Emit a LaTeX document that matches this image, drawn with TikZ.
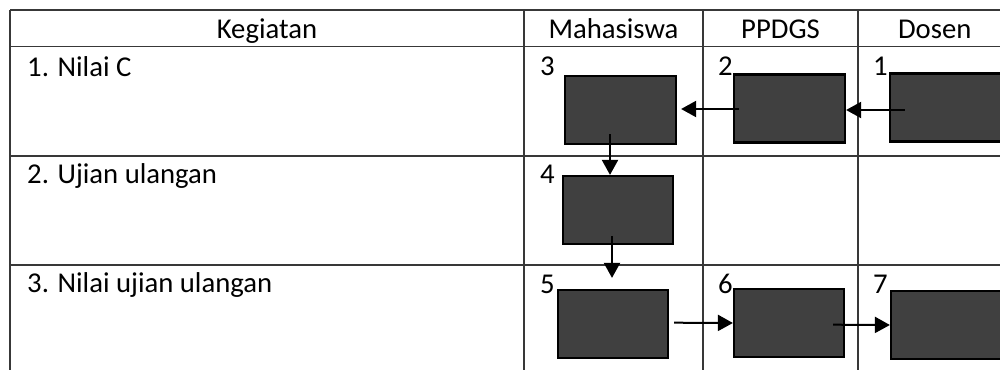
\documentclass[tikz,border=0pt]{standalone}
\usepackage{fontspec}
\setmainfont{Carlito}
\usetikzlibrary{arrows.meta}
\begin{document}
\begin{tikzpicture}[x=1pt,y=-1pt,
  grid/.style={draw=black!78,line width=1.6pt},
  act/.style={draw=black,fill=black!75,line width=2.2pt,minimum width=111pt,minimum height=68pt,inner sep=0pt},
  lbl/.style={anchor=base west,inner sep=0pt,font=\fontsize{28.7}{34}\selectfont},
  hdr/.style={anchor=base,inner sep=0pt,font=\fontsize{28.7}{34}\selectfont},
  arr/.style={draw=black,line width=2pt,-{Triangle[length=15pt,width=16pt]}}]
\fill[white] (0,0) rectangle (1000,369);
\useasboundingbox (0,0) rectangle (1000,369);
\clip (0,0) rectangle (1000,369);
% table
\foreach \y in {10,46.7,155.7,264.7} \draw[grid] (10,\y) -- (1010,\y);
\foreach \x in {10,524,703,858} \draw[grid] (\x,10) -- (\x,380);
% header
\node[hdr] (hk) at (267,38) {Kegiatan};
\node[hdr] (hm) at (613.5,38) {Mahasiswa};
\node[hdr] (hp) at (780.5,38) {PPDGS};
\node[hdr] (hd) at (934.7,38) {Dosen};
% rows
\node[lbl] (r1) at (27,76) {1. Nilai C};
\node[lbl] (r2) at (27,183) {2. Ujian ulangan};
\node[lbl] (r3) at (27,292) {3. Nilai ujian ulangan};
% numbers
\node[lbl] (n3) at (540,75) {3};
\node[lbl] (n2) at (718,75) {2};
\node[lbl] (n1) at (873,75) {1};
\node[lbl] (n4) at (540,183) {4};
\node[lbl] (n5) at (540,293) {5};
\node[lbl] (n6) at (718,293) {6};
\node[lbl] (n7) at (873,293) {7};
% boxes
\node[act] (b3) at (620.5,110) {};
\node[act] (b2) at (789.5,108.5) {};
\node[act] (b1) at (945.5,107.5) {};
\node[act,minimum width=110pt] (b4) at (618,210) {};
\node[act,minimum width=110pt] (b5) at (613,324) {};
\node[act,minimum width=110pt] (b6) at (789,323) {};
\node[act] (b7) at (946.5,325) {};
% arrows
\draw[arr] ([xshift=16pt,yshift=-2.5pt]b1.west) -- ([yshift=-1.5pt]b2.east);
\draw[arr] ([xshift=6pt,yshift=-0.5pt]b2.west) -- ([xshift=4pt,yshift=1pt]b3.east);
\draw[arr] ([xshift=-10.5pt,yshift=11pt]b3.south) -- ([xshift=-8pt]b4.north);
\draw[arr] ([xshift=-6pt,yshift=9pt]b4.south) -- ([xshift=-1pt,yshift=11pt]b5.north);
\draw[arr] ([xshift=5pt,yshift=1.3pt]b5.east) -- ([yshift=0pt]b6.west);
\draw[arr] ([xshift=-12pt,yshift=-1.7pt]b6.east) -- ([yshift=0pt]b7.west);
\end{tikzpicture}
\end{document}
